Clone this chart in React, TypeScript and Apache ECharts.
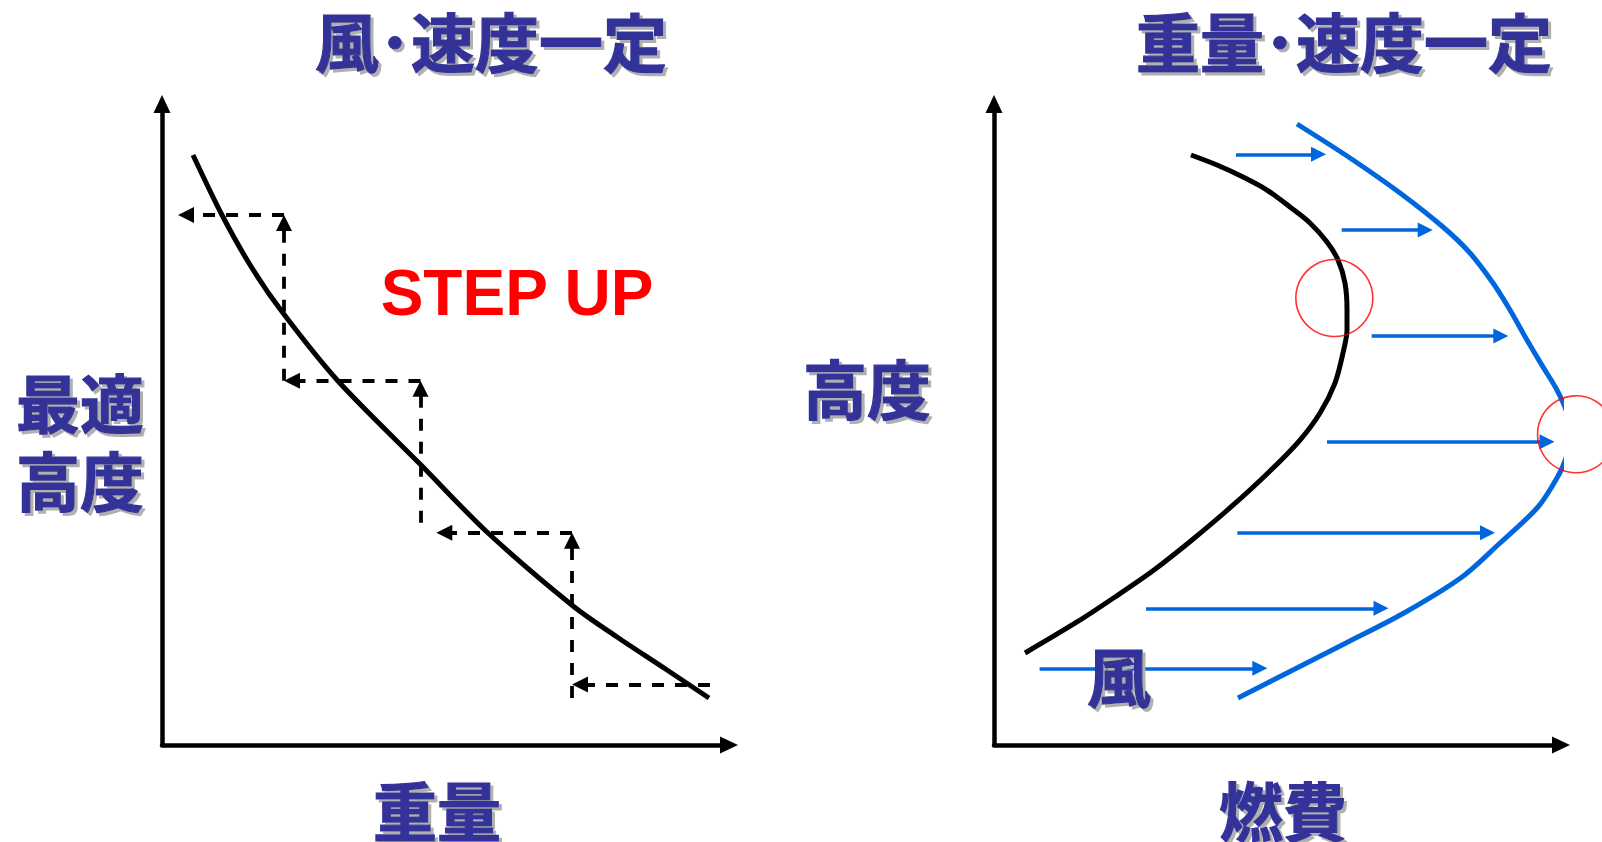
import React, { useEffect, useRef } from 'react';
import * as echarts from 'echarts';

// ---------- Left panel: 風･速度一定 (optimum altitude vs weight) ----------
const leftTitle = '風･速度一定';
const leftXName = '重量';
const leftYName = ['最適', '高度'];
const stepUpText = 'STEP UP';
// optimum altitude curve [weight, altitude]
const optimumCurve: [number, number][] = [
  [5.47, 92.04], [10.58, 82.68], [15.87, 74.41], [21.34, 67.39], [31.04, 56.79],
  [45.68, 43.68], [57.5, 33.07], [72.49, 21.68], [80.25, 16.85], [88.54, 12.01],
  [96.47, 7.33],
];
// dashed step arrows: [tailX, tailY, tipX, tipY]
const stepArrows: number[][] = [
  [21.52, 82.68, 2.82, 82.68],
  [21.52, 56.83, 21.52, 82.68],
  [45.59, 56.83, 21.52, 56.83],
  [45.59, 34.68, 45.59, 56.83],
  [72.31, 33.12, 48.38, 33.12],
  [72.31, 7.33, 72.31, 33.12],
  [96.65, 9.42, 72.31, 9.42],
];

// ---------- Right panel: 重量･速度一定 (altitude vs fuel burn) ----------
const rightTitle = '重量･速度一定';
const rightXName = '燃費';
const rightYName = '高度';
const windLabel = '風';
const noWindCurve: [number, number][] = [
  [34.74, 92.04], [39.33, 90.48], [43.92, 88.61], [48.15, 86.58], [52.2, 83.93],
  [55.73, 81.44], [58.73, 78.47], [60.67, 75.66], [61.9, 72.07], [62.26, 67.86],
  [62.26, 64.74], [61.55, 61.15], [60.14, 56.47], [57.5, 51.79], [53.97, 47.58],
  [48.5, 42.59], [41.8, 37.13], [34.92, 31.98], [28.22, 27.3], [21.34, 23.09],
  [14.64, 19.19], [5.47, 14.35],
];
const windCurve: [number, number][] = [
  [53.44, 96.88], [62.79, 91.58], [71.61, 86.12], [79.19, 80.81], [83.95, 76.76],
  [88.01, 72.07], [91.01, 67.86], [94.0, 63.18], [96.83, 58.97], [99.29, 55.38],
  [101.06, 51.79], [101.59, 48.05], [100.88, 44.77], [99.29, 41.65], [95.94, 37.13],
  [89.24, 31.51], [82.54, 26.21], [72.31, 20.59], [62.08, 15.91], [52.03, 11.39],
  [43.03, 7.33],
];
const windArrows: number[][] = [
  [42.68, 92.15, 58.55, 92.15],
  [61.32, 80.34, 77.37, 80.34],
  [66.61, 63.81, 90.71, 63.81],
  [58.73, 47.32, 98.85, 47.32],
  [42.91, 33.12, 88.36, 33.12],
  [26.81, 21.33, 69.58, 21.33],
  [8.04, 11.97, 48.2, 11.97],
];
const optimumMarks: [number, number][] = [
  [60.02, 69.73],
  [102.65, 48.47],
];

// ---------- layout ----------
const W = 1602;
const H = 842;
const GRID_W = 567;
const GRID_H = 641;
const grids = [
  { left: 162, top: 104, width: GRID_W, height: GRID_H },
  { left: 994, top: 104, width: GRID_W, height: GRID_H },
];
const UX = GRID_W / 100;
const UY = GRID_H / 100;
const NAVY = '#333399';
const BLUE = '#0066dd';

// line end symbols are centred on the end point; pull the end back so the tip lands on it
function arrowCoords(a: number[], head: number) {
  const dx = (a[2] - a[0]) * UX;
  const dy = (a[3] - a[1]) * UY;
  const len = Math.sqrt(dx * dx + dy * dy);
  const k = head / 2 / len;
  return [
    [a[0], a[1]],
    [a[2] - (dx * k) / UX, a[3] - (dy * k) / UY],
  ];
}

function axis(gridIndex: number) {
  return {
    type: 'value',
    gridIndex,
    min: 0,
    max: 100,
    axisTick: { show: false },
    axisLabel: { show: false },
    splitLine: { show: false },
    axisLine: {
      show: true,
      onZero: false,
      symbol: ['none', 'triangle'],
      symbolSize: [17, 18],
      lineStyle: { color: '#000', width: 4.5 },
    },
  };
}

function label(text: string, x: number, y: number, size = 64) {
  return {
    type: 'text',
    x,
    y,
    z: 100,
    style: {
      text,
      fill: NAVY,
      stroke: NAVY,
      lineWidth: 1.2,
      fontSize: size,
      lineHeight: 78,
      fontWeight: 'bold',
      fontFamily: '"Noto Sans CJK JP", "Noto Sans CJK SC", sans-serif',
      align: 'center',
      verticalAlign: 'middle',
      textShadowColor: '#b0b0b0',
      textShadowOffsetX: 3,
      textShadowOffsetY: 3,
      textShadowBlur: 1,
    },
  };
}

function buildOption() {
  return {
    animation: false,
    backgroundColor: '#ffffff',
    grid: grids,
    xAxis: [axis(0), axis(1)],
    yAxis: [axis(0), axis(1)],
    series: [
      {
        type: 'line',
        xAxisIndex: 0,
        yAxisIndex: 0,
        data: optimumCurve,
        smooth: 0.3,
        showSymbol: false,
        clip: false,
        lineStyle: { color: '#000', width: 5 },
        z: 3,
      },
      {
        type: 'lines',
        coordinateSystem: 'cartesian2d',
        xAxisIndex: 0,
        yAxisIndex: 0,
        symbol: ['none', 'triangle'],
        symbolSize: [0, [16, 16]],
        clip: false,
        lineStyle: { color: '#000', width: 3.8, type: [12, 11], opacity: 1 },
        data: stepArrows.map((a) => ({ coords: arrowCoords(a, 16) })),
        z: 4,
      },
      {
        type: 'line',
        xAxisIndex: 1,
        yAxisIndex: 1,
        data: noWindCurve,
        smooth: 0.3,
        showSymbol: false,
        clip: false,
        lineStyle: { color: '#000', width: 5 },
        z: 3,
      },
      {
        type: 'line',
        xAxisIndex: 1,
        yAxisIndex: 1,
        data: windCurve,
        smooth: 0.3,
        showSymbol: false,
        clip: false,
        lineStyle: { color: BLUE, width: 5 },
        z: 3,
      },
      {
        type: 'lines',
        coordinateSystem: 'cartesian2d',
        xAxisIndex: 1,
        yAxisIndex: 1,
        symbol: ['none', 'triangle'],
        symbolSize: [0, [15, 15]],
        clip: false,
        lineStyle: { color: BLUE, width: 3.5, opacity: 1 },
        data: windArrows.map((a) => ({ coords: arrowCoords(a, 15) })),
        z: 4,
      },
      {
        type: 'scatter',
        xAxisIndex: 1,
        yAxisIndex: 1,
        data: optimumMarks,
        symbol: 'circle',
        symbolSize: 77,
        clip: false,
        itemStyle: { color: 'rgba(0,0,0,0)', borderColor: '#ff0000', borderWidth: 1.6 },
        z: 5,
      },
    ],
    graphic: [
      label(leftTitle, 491, 39),
      label(rightTitle, 1344, 39),
      label(leftYName.join('\n'), 80, 439),
      label(leftXName, 437, 808),
      label(rightYName, 867, 386),
      label(rightXName, 1283, 808),
      label(windLabel, 1119, 674),
      {
        type: 'text',
        x: 517,
        y: 293,
        z: 100,
        style: {
          text: stepUpText,
          fill: '#ff0000',
          fontSize: 64,
          fontWeight: 'bold',
          fontFamily: '"Liberation Sans", Arial, sans-serif',
          align: 'center',
          verticalAlign: 'middle',
        },
      },
    ],
  };
}

export default function App() {
  const ref = useRef<HTMLDivElement>(null);
  useEffect(() => {
    const chart = echarts.init(ref.current!, null, { renderer: 'svg' });
    chart.setOption(buildOption() as any);
    return () => chart.dispose();
  }, []);
  return (
    <div
      ref={ref}
      style={{ position: 'fixed', left: 0, top: 0, width: W, height: H, background: '#fff' }}
    />
  );
}
